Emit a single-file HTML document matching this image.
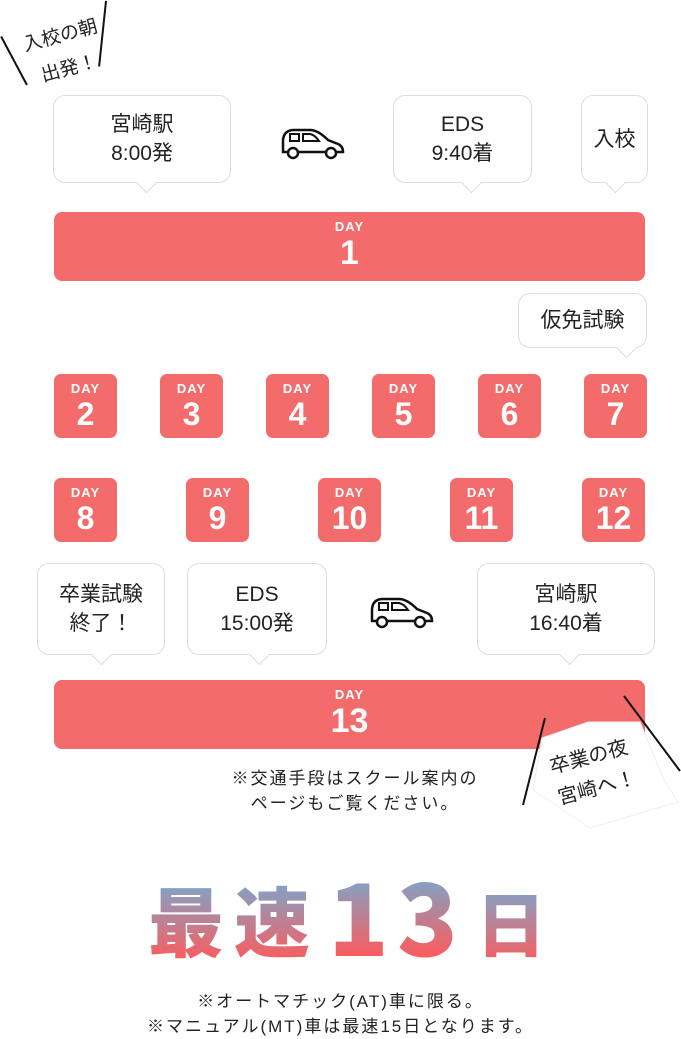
<!DOCTYPE html>
<html><head><meta charset="utf-8"><style>
*{margin:0;padding:0;box-sizing:border-box}
body{width:681px;height:1038px;background:#fff;position:relative;overflow:hidden;font-family:"Liberation Sans","Noto Sans CJK JP",sans-serif;color:#222}
.b{position:absolute;background:#fff;border:1.5px solid #ddd;border-radius:12px;display:flex;align-items:center;justify-content:center;text-align:center;font-size:21px;line-height:29px}
.b:after{content:"";position:absolute;bottom:-8px;width:14px;height:14px;background:#fff;border-right:1.5px solid #ddd;border-bottom:1.5px solid #ddd;transform:rotate(45deg);left:var(--t)}
.bar{position:absolute;left:54px;width:591px;height:69px;background:#f46b6b;border-radius:8px;color:#fff;text-align:center}
.d{position:absolute;width:63px;height:64px;background:#f46b6b;border-radius:7px;color:#fff;text-align:center}
.d i,.bar i{display:block;font-style:normal;font-weight:bold;font-size:13px;letter-spacing:1px;margin-top:8px;line-height:14px}
.d b{display:block;font-size:32px;line-height:36px}
.bar b{display:block;font-size:34px;line-height:38px}
.ln{position:absolute;height:2px;background:#111;transform-origin:0 0}
.g{position:absolute;top:858px;height:112px;line-height:112px;font-weight:900;background:linear-gradient(#78a8cf 15%,#ff5a5a 90%);-webkit-background-clip:text;background-clip:text;color:transparent;font-family:"Noto Sans CJK JP",sans-serif}
</style></head><body>
<div class="ln" style="left:2px;top:36px;width:55px;transform:rotate(62deg)"></div>
<div class="ln" style="left:107px;top:1px;width:66px;transform:rotate(96deg)"></div>
<div style="position:absolute;left:7px;top:19px;width:116px;font-size:19px;line-height:34px;text-align:center;transform:rotate(-15deg)">入校の朝<br>出発！</div>

<div class="b" style="left:53px;top:95px;width:178px;height:88px;--t:85px">宮崎駅<br>8:00発</div>
<svg style="position:absolute;left:280px;top:126px" width="66" height="34" viewBox="0 0 66 34"><path d="M3 26 V14 Q4 4 14 4 H30 Q38 4 48 14 L58 18 Q63 20 63 26 Z" fill="none" stroke="#111" stroke-width="2.5"/><rect x="10" y="8" width="9" height="7" fill="none" stroke="#111" stroke-width="2"/><path d="M23 8 H30 Q35 9 39 15 H23 Z" fill="none" stroke="#111" stroke-width="2"/><circle cx="13" cy="27" r="5" fill="#fff" stroke="#111" stroke-width="2.5"/><circle cx="51" cy="27" r="5" fill="#fff" stroke="#111" stroke-width="2.5"/></svg>
<div class="b" style="left:393px;top:95px;width:139px;height:88px;--t:70px">EDS<br>9:40着</div>
<div class="b" style="left:581px;top:95px;width:67px;height:88px;--t:26px">入校</div>

<div class="bar" style="top:212px"><i>DAY</i><b>1</b></div>

<div class="b" style="left:518px;top:293px;width:129px;height:55px;--t:100px">仮免試験</div>

<div class="d" style="left:54px;top:374px"><i>DAY</i><b>2</b></div>
<div class="d" style="left:160px;top:374px"><i>DAY</i><b>3</b></div>
<div class="d" style="left:266px;top:374px"><i>DAY</i><b>4</b></div>
<div class="d" style="left:372px;top:374px"><i>DAY</i><b>5</b></div>
<div class="d" style="left:478px;top:374px"><i>DAY</i><b>6</b></div>
<div class="d" style="left:584px;top:374px"><i>DAY</i><b>7</b></div>

<div class="d" style="left:54px;top:478px"><i>DAY</i><b>8</b></div>
<div class="d" style="left:186px;top:478px"><i>DAY</i><b>9</b></div>
<div class="d" style="left:318px;top:478px"><i>DAY</i><b>10</b></div>
<div class="d" style="left:450px;top:478px"><i>DAY</i><b>11</b></div>
<div class="d" style="left:582px;top:478px"><i>DAY</i><b>12</b></div>

<div class="b" style="left:37px;top:563px;width:128px;height:92px;--t:56px">卒業試験<br>終了！</div>
<div class="b" style="left:187px;top:563px;width:140px;height:92px;--t:64px">EDS<br>15:00発</div>
<svg style="position:absolute;left:369px;top:595px" width="66" height="34" viewBox="0 0 66 34"><path d="M3 26 V14 Q4 4 14 4 H30 Q38 4 48 14 L58 18 Q63 20 63 26 Z" fill="none" stroke="#111" stroke-width="2.5"/><rect x="10" y="8" width="9" height="7" fill="none" stroke="#111" stroke-width="2"/><path d="M23 8 H30 Q35 9 39 15 H23 Z" fill="none" stroke="#111" stroke-width="2"/><circle cx="13" cy="27" r="5" fill="#fff" stroke="#111" stroke-width="2.5"/><circle cx="51" cy="27" r="5" fill="#fff" stroke="#111" stroke-width="2.5"/></svg>
<div class="b" style="left:477px;top:563px;width:178px;height:92px;--t:84px">宮崎駅<br>16:40着</div>

<div class="bar" style="top:680px"><i>DAY</i><b>13</b></div>
<svg style="position:absolute;left:0;top:0" width="681" height="1038"><polygon points="542,738 588,722 640,722 664,780 678,802 590,828 533,790" fill="#fff" stroke="#eee" stroke-width="1"/><line x1="545" y1="718" x2="523" y2="805" stroke="#111" stroke-width="2"/><line x1="624" y1="696" x2="680" y2="771" stroke="#111" stroke-width="2"/></svg>
<div style="position:absolute;left:528px;top:741px;width:130px;font-size:20px;line-height:32px;text-align:center;transform:rotate(-15deg)">卒業の夜<br>宮崎へ！</div>

<div style="position:absolute;left:140px;top:766px;width:430px;text-align:center;font-size:17px;line-height:25px;letter-spacing:2px">※交通手段はスクール案内の<br>ページもご覧ください。</div>

<div class="g" style="left:148px;top:862px;font-size:76px">最</div>
<div class="g" style="left:234px;top:862px;font-size:76px">速</div>
<div class="g" style="left:328px;top:857px;font-size:100px">1</div>
<div class="g" style="left:397px;top:857px;font-size:100px">3</div>
<div class="g" style="left:476px;font-size:70px;top:866px">日</div>

<div style="position:absolute;left:0;top:989px;width:681px;text-align:center;font-size:17px;line-height:25px;letter-spacing:2px">※オートマチック(AT)車に限る。<br>※マニュアル(MT)車は最速15日となります。</div>
</body></html>
